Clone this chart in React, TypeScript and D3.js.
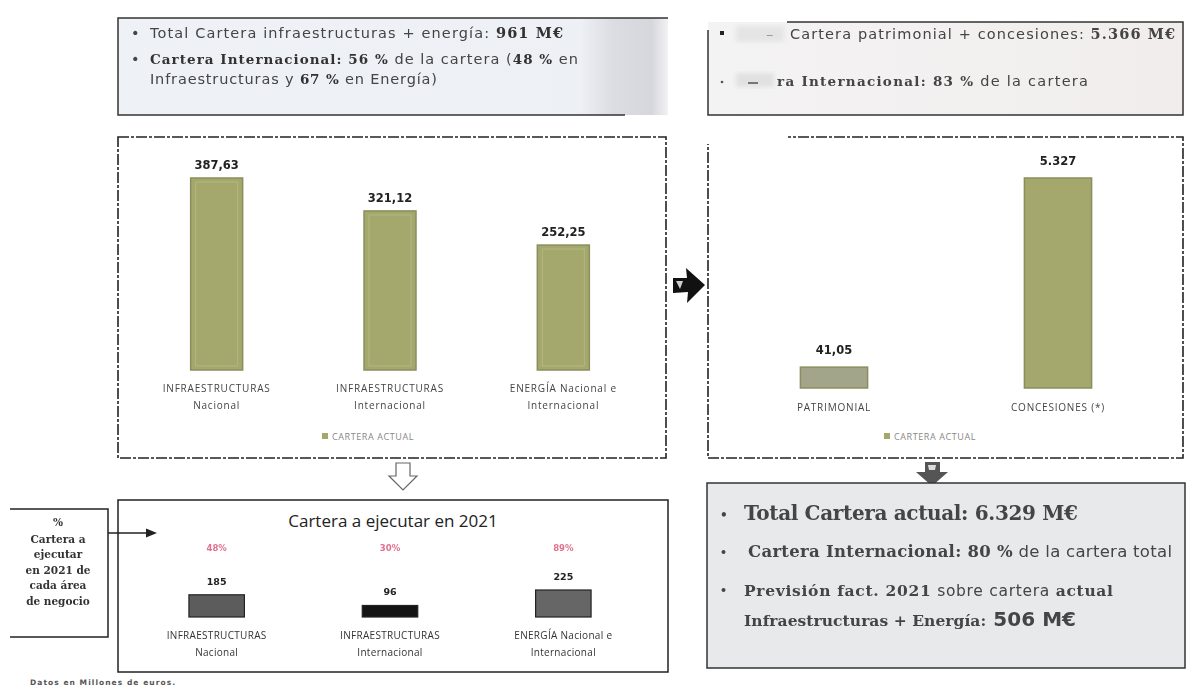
import React from "react";
import * as d3 from "d3";

// ---------- data ----------
const actualCategories = [
  ["INFRAESTRUCTURAS", "Nacional"],
  ["INFRAESTRUCTURAS", "Internacional"],
  ["ENERGÍA Nacional e", "Internacional"],
];
const actualValues = [387.63, 321.12, 252.25];
const actualLabels = ["387,63", "321,12", "252,25"];

const concCategories = ["PATRIMONIAL", "CONCESIONES (*)"];
const concValues = [41.05, 5327];
const concLabels = ["41,05", "5.327"];

const execCategories = actualCategories;
const execValues = [185, 96, 225];
const execLabels = ["185", "96", "225"];
const execPct = ["48%", "30%", "89%"];

const legendLabel = "CARTERA ACTUAL";
const execTitle = "Cartera a ejecutar en 2021";
const noteLines = ["%", "Cartera a", "ejecutar", "en 2021 de", "cada área", "de negocio"];
const footnote = "Datos en Millones de euros.";

// ---------- styles ----------
const OLIVE = "#a4a86c";
const OLIVE_EDGE = "#8b8e5c";
const EXEC_FILL = ["#5c5c5c", "#141414", "#666666"];
const SANS = "'Open Sans', 'DejaVu Sans', sans-serif";
const WIDE = "'DejaVu Sans', sans-serif";
const SLAB = "'DejaVu Serif', serif";
const BOLD_SANS = "'DejaVu Sans', sans-serif";

export default function App() {
  const xA = d3.scaleBand<number>().domain(d3.range(actualValues.length)).range([130, 650]).paddingInner(0.7).paddingOuter(0.35);
  const yA = d3.scaleLinear().domain([0, d3.max(actualValues) as number]).range([370, 178]);
  const xC = d3.scaleBand<number>().domain(d3.range(concValues.length)).range([722, 1170]).paddingInner(0.7).paddingOuter(0.35);
  const yC = d3.scaleLog().domain([24, 5327]).range([388, 178]);
  const xE = d3.scaleBand<number>().domain(d3.range(execValues.length)).range([130, 650]).paddingInner(0.68).paddingOuter(0.34);
  const yE = d3.scaleLinear().domain([0, d3.max(execValues) as number]).range([617, 590]);

  const dash = "11 2 3 2";

  return (
    <svg width={1192} height={690} style={{ position: "absolute", left: 0, top: 0, background: "#fff" }}>
      <defs>
        <linearGradient id="tlg" x1="0" x2="1" y1="0" y2="0">
          <stop offset="0" stopColor="#eef2f7" />
          <stop offset="0.84" stopColor="#edf0f5" />
          <stop offset="0.9" stopColor="#dcdde2" />
          <stop offset="0.97" stopColor="#d6d7dc" />
          <stop offset="1" stopColor="#f2f2f4" />
        </linearGradient>
        <linearGradient id="trg" x1="0" x2="1" y1="0" y2="0">
          <stop offset="0" stopColor="#f4f3f3" />
          <stop offset="1" stopColor="#f1eded" />
        </linearGradient>
        <filter id="blur"><feGaussianBlur stdDeviation="2" /></filter>
        <filter id="soft"><feGaussianBlur stdDeviation="0.35" /></filter>
      </defs>

      {/* ---------- top-left info box ---------- */}
      <rect x={118} y={18} width={550} height={97} fill="url(#tlg)" />
      <path d="M668,18 L118,18 L118,115 L625,115" fill="none" stroke="#333" strokeWidth={1.5} />
      <g fontFamily={WIDE} fontSize={14.5} fill="#444" filter="url(#soft)">
        <text x={131} y={38}>•</text>
        <text x={150} y={38} textLength={413} lengthAdjust="spacing">
          Total Cartera infraestructuras + energía:{" "}
          <tspan fontFamily={SLAB} fontWeight="bold" fill="#333">961 M€</tspan>
        </text>
        <text x={131} y={64}>•</text>
        <text x={150} y={64} textLength={428} lengthAdjust="spacing">
          <tspan fontFamily={SLAB} fontWeight="bold" fill="#333" fontSize={13.5}>Cartera Internacional: 56 %</tspan> de la cartera (
          <tspan fontFamily={SLAB} fontWeight="bold" fill="#333" fontSize={13.5}>48 %</tspan> en
        </text>
        <text x={150} y={84} textLength={287} lengthAdjust="spacing">
          Infraestructuras y{"  "}
          <tspan fontFamily={SLAB} fontWeight="bold" fill="#333" fontSize={13.5}>67 %</tspan> en Energía)
        </text>
      </g>

      {/* ---------- top-right info box ---------- */}
      <rect x={708} y={22} width={475} height={93} fill="url(#trg)" />
      <path d="M787,22 L1183,22 L1183,115 L708,115 L708,30" fill="none" stroke="#333" strokeWidth={1.5} />
      <rect x={736} y={26} width={48} height={16} fill="#d8d8d8" filter="url(#blur)" opacity={0.5} />
      <rect x={736} y={73} width={38} height={14} fill="#d0d0d0" filter="url(#blur)" opacity={0.5} />
      <g fontFamily={WIDE} fontSize={14.5} fill="#444" filter="url(#soft)">
        <rect x={720} y={31} width={4} height={4} fill="#222" />
        <text x={766} y={39} fill="#999">–</text>
        <text x={790} y={39} textLength={385} lengthAdjust="spacing">
          Cartera patrimonial + concesiones:{" "}
          <tspan fontFamily={SLAB} fontWeight="bold" fill="#444">5.366 M€</tspan>
        </text>
        <circle cx={722} cy={82} r={1.3} fill="#555" />
        <rect x={748} y={82} width={10} height={2} fill="#777" />
        <text x={777} y={86} textLength={311} lengthAdjust="spacing">
          <tspan fontFamily={SLAB} fontWeight="bold" fill="#444" fontSize={13.5}>ra Internacional: 83 %</tspan> de la cartera
        </text>
      </g>

      {/* ---------- left chart: cartera actual ---------- */}
      <rect x={118} y={137} width={548} height={321} fill="#fff" stroke="#222" strokeWidth={1.6} strokeDasharray={dash} />
      {actualValues.map((v, i) => (
        <g key={i}>
          <rect x={xA(i)} y={yA(v)} width={xA.bandwidth()} height={yA(0) - yA(v)} fill={OLIVE} stroke={OLIVE_EDGE} strokeWidth={1.5} />
          <rect x={(xA(i) as number) + 5} y={yA(v) + 4} width={xA.bandwidth() - 10} height={yA(0) - yA(v) - 8} fill="none" stroke="#b4b880" strokeWidth={1} />
          <text x={(xA(i) as number) + xA.bandwidth() / 2} y={yA(v) - 9} textAnchor="middle" fontFamily={BOLD_SANS} fontWeight="bold" fontSize={11.5} fill="#222" filter="url(#soft)">
            {actualLabels[i]}
          </text>
          {actualCategories[i].map((l, j) => (
            <text key={j} x={(xA(i) as number) + xA.bandwidth() / 2} y={yA(0) + 22 + j * 17} textAnchor="middle" fontFamily={SANS} fontSize={10} letterSpacing={0.8} fill="#444" filter="url(#soft)">
              {l}
            </text>
          ))}
        </g>
      ))}
      <g fontFamily={SANS} fontSize={9} fill="#888" letterSpacing={0.6}>
        <rect x={322} y={433} width={6} height={6} fill={OLIVE} />
        <text x={332} y={440}>{legendLabel}</text>
      </g>

      {/* right arrow between charts */}
      <path d="M673,278 L687,278 L686,268 L705,285 L687,303 L688,292 L673,293 Z" fill="#111" />
      <path d="M676,281 L683,281 L680,289 Z" fill="#fff" opacity={0.8} />

      {/* ---------- right chart: patrimonial + concesiones ---------- */}
      <rect x={708} y={137} width={475} height={321} fill="#fff" stroke="#222" strokeWidth={1.6} strokeDasharray={dash} />
      <rect x={690} y={118} width={98} height={26} fill="#fff" />
      {concValues.map((v, i) => (
        <g key={i}>
          <rect x={xC(i)} y={yC(v)} width={xC.bandwidth()} height={yC(24) - yC(v)} fill={i === 0 ? "#a2a58a" : OLIVE} stroke={OLIVE_EDGE} strokeWidth={1.5} />
          <text x={(xC(i) as number) + xC.bandwidth() / 2} y={yC(v) - 13} textAnchor="middle" fontFamily={BOLD_SANS} fontWeight="bold" fontSize={11.5} fill="#222" filter="url(#soft)">
            {concLabels[i]}
          </text>
          <text x={(xC(i) as number) + xC.bandwidth() / 2} y={yC(24) + 23} textAnchor="middle" fontFamily={SANS} fontSize={10} letterSpacing={0.8} fill="#444" filter="url(#soft)">
            {concCategories[i]}
          </text>
        </g>
      ))}
      <g fontFamily={SANS} fontSize={9} fill="#888" letterSpacing={0.6}>
        <rect x={884} y={433} width={6} height={6} fill={OLIVE} />
        <text x={894} y={440}>{legendLabel}</text>
      </g>

      {/* down arrows */}
      <path d="M396,463 L410,463 L410,476 L417,476 L403,490 L389,476 L396,476 Z" fill="#fff" stroke="#666" strokeWidth={1.2} />
      <path d="M925,462 L940,462 L940,472 L948,472 L932,486 L916,472 L925,472 Z" fill="#555" />
      <path d="M928,465 L936,465 L935,470 L929,470 Z" fill="#ddd" />

      {/* ---------- bottom-left: cartera a ejecutar ---------- */}
      <rect x={118} y={500} width={550} height={172} fill="#fff" stroke="#222" strokeWidth={1.5} />
      <text x={393} y={527} textAnchor="middle" fontFamily={SANS} fontSize={17} fill="#222">{execTitle}</text>
      {execValues.map((v, i) => {
        const cx = (xE(i) as number) + xE.bandwidth() / 2;
        return (
          <g key={i}>
            <text x={cx} y={551} textAnchor="middle" fontFamily={BOLD_SANS} fontWeight="bold" fontSize={8.5} fill="#e0708e" filter="url(#soft)">{execPct[i]}</text>
            <rect x={xE(i)} y={yE(v)} width={xE.bandwidth()} height={yE(0) - yE(v)} fill={EXEC_FILL[i]} stroke="#222" strokeWidth={1.2} />
            <text x={cx} y={yE(v) - 10} textAnchor="middle" fontFamily={BOLD_SANS} fontWeight="bold" fontSize={9.5} fill="#222" filter="url(#soft)">{execLabels[i]}</text>
            {execCategories[i].map((l, j) => (
              <text key={j} x={cx} y={639 + j * 17} textAnchor="middle" fontFamily={SANS} fontSize={10} letterSpacing={0.3} fill="#333" filter="url(#soft)">{l}</text>
            ))}
          </g>
        );
      })}

      {/* note box */}
      <path d="M10,509 L108,509 L108,637 L10,637" fill="#fff" stroke="#222" strokeWidth={1.5} />
      <g fontFamily={SLAB} fontWeight="bold" fontSize={10.5} fill="#333" textAnchor="middle" filter="url(#soft)">
        {noteLines.map((l, i) => (
          <text key={i} x={58} y={i === 0 ? 526 : 527 + i * 15.5}>{l}</text>
        ))}
      </g>
      <line x1={108} y1={533} x2={148} y2={533} stroke="#222" strokeWidth={1.5} />
      <path d="M146,528.5 L157,533 L146,537.5 Z" fill="#222" />
      <text x={30} y={685} fontFamily={BOLD_SANS} fontWeight="bold" fontSize={7.5} fill="#555" textLength={145} lengthAdjust="spacing">{footnote}</text>

      {/* ---------- bottom-right summary box ---------- */}
      <rect x={707} y={483} width={478} height={185} fill="#e8e9eb" stroke="#333" strokeWidth={1.5} />
      <g fill="#444" filter="url(#soft)">
        <text x={720} y={519} fontFamily={SLAB} fontWeight="bold" fontSize={12}>•</text>
        <text x={744} y={520} fontFamily={SLAB} fontWeight="bold" fontSize={20} textLength={334} lengthAdjust="spacing">
          Total Cartera actual:{"  "}6.329 M€
        </text>
        <text x={720} y={556} fontFamily={SLAB} fontWeight="bold" fontSize={11}>•</text>
        <text x={748} y={557} fontSize={16.5} textLength={424} lengthAdjust="spacing">
          <tspan fontFamily={SLAB} fontWeight="bold">Cartera Internacional: 80 %</tspan>
          <tspan fontFamily={WIDE}> de la cartera total</tspan>
        </text>
        <text x={720} y={594} fontFamily={SLAB} fontWeight="bold" fontSize={11}>•</text>
        <text x={744} y={596} fontSize={15.5} textLength={369} lengthAdjust="spacing">
          <tspan fontFamily={SLAB} fontWeight="bold">Previsión fact. 2021</tspan>
          <tspan fontFamily={WIDE}> sobre cartera </tspan>
          <tspan fontFamily={SLAB} fontWeight="bold">actual</tspan>
        </text>
        <text x={744} y={626} fontSize={15.5} textLength={332} lengthAdjust="spacing">
          <tspan fontFamily={SLAB} fontWeight="bold">Infraestructuras + Energía:</tspan>
          <tspan fontFamily={BOLD_SANS} fontWeight="bold" fontSize={20}> 506 M€</tspan>
        </text>
      </g>
    </svg>
  );
}
